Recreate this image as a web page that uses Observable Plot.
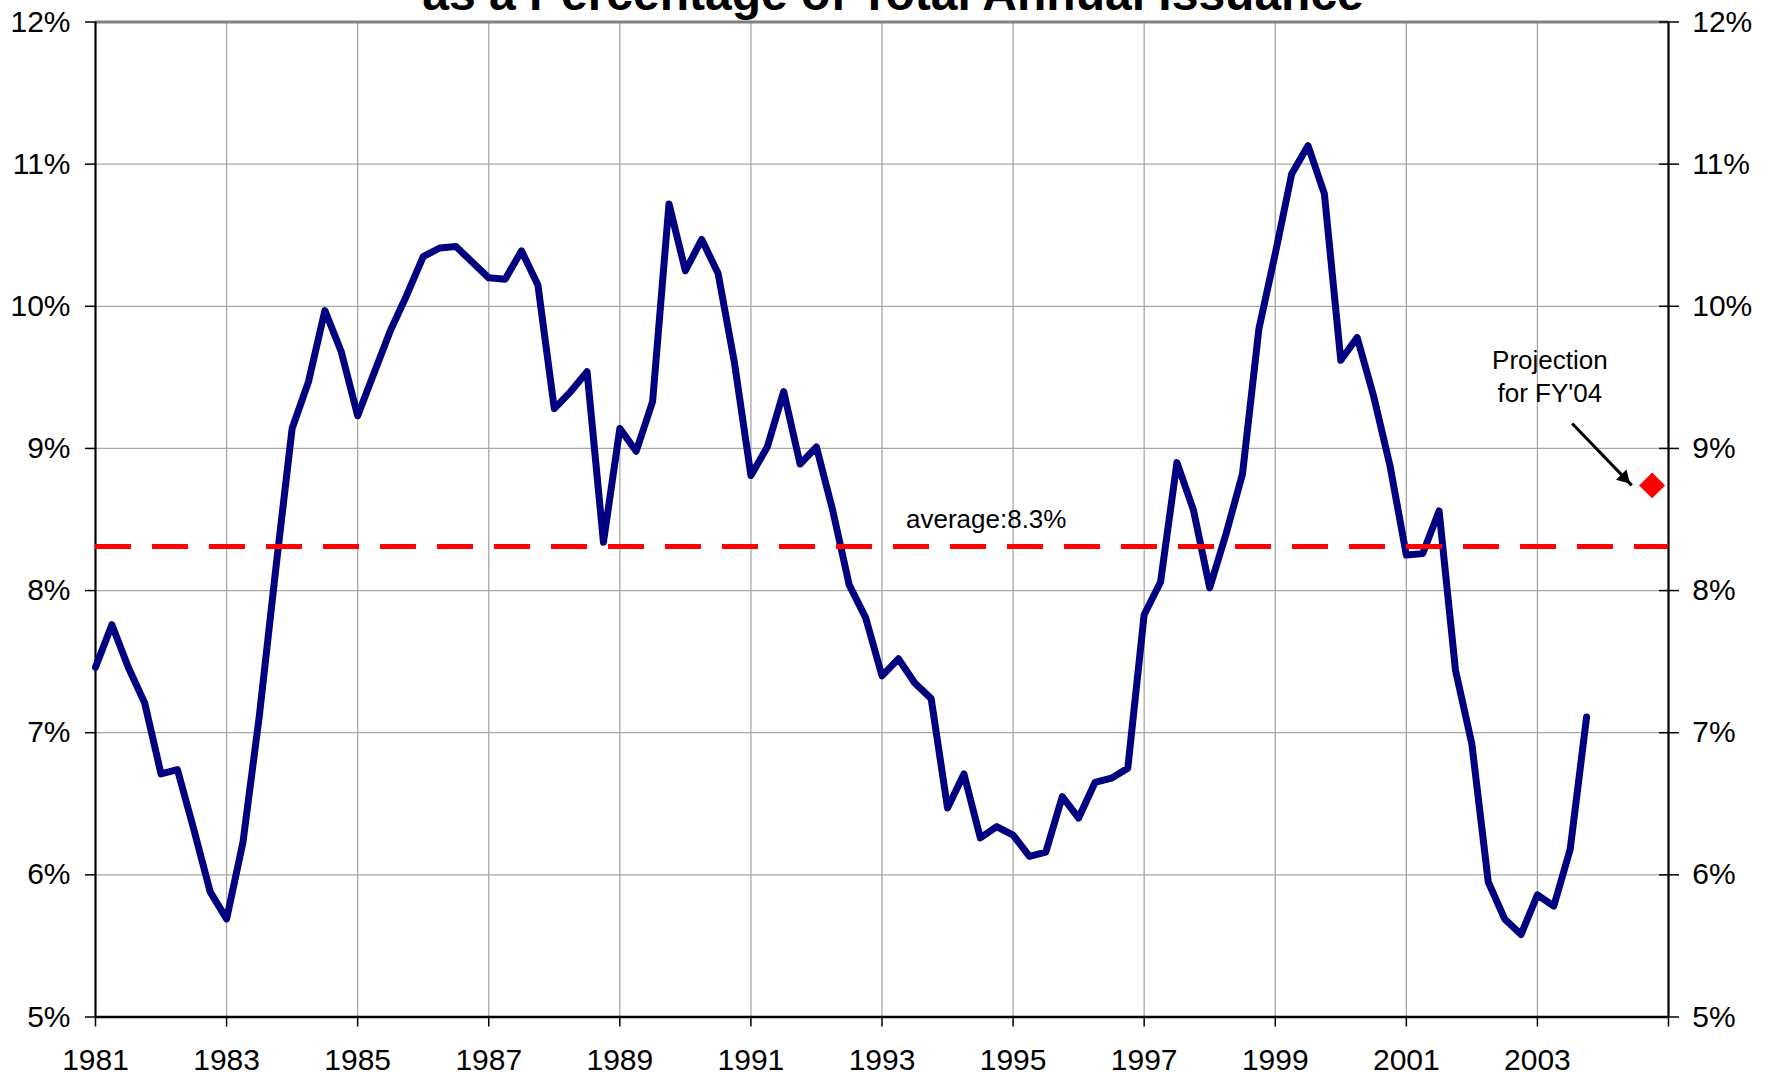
<!DOCTYPE html>
<html>
<head>
<meta charset="utf-8">
<script src="https://cdn.jsdelivr.net/npm/d3@7"></script>
<script src="https://cdn.jsdelivr.net/npm/@observablehq/plot@0.6"></script>
<style>
  html, body { margin: 0; padding: 0; background: #fff; overflow: hidden; }
  #chart { width: 1771px; height: 1077px; }
</style>
</head>
<body>
<div id="chart"></div>
<script>
// ---- Data (quarterly, starting 1981 Q1) ----
const startYear = 1981;
const values = [
  7.46, 7.76, 7.46, 7.21, 6.71, 6.74, 6.32, 5.88, 5.69, 6.23,
  7.12, 8.15, 9.14, 9.47, 9.97, 9.68, 9.23, 9.53, 9.83, 10.08,
  10.35, 10.41, 10.42, 10.31, 10.20, 10.19, 10.39, 10.15, 9.28, 9.40,
  9.54, 8.34, 9.14, 8.98, 9.33, 10.72, 10.25, 10.47, 10.23, 9.60,
  8.81, 9.01, 9.40, 8.89, 9.01, 8.56, 8.04, 7.81, 7.40, 7.52,
  7.35, 7.24, 6.47, 6.71, 6.26, 6.34, 6.28, 6.13, 6.16, 6.55,
  6.40, 6.65, 6.68, 6.75, 7.83, 8.06, 8.90, 8.57, 8.02, 8.40,
  8.82, 9.84, 10.37, 10.93, 11.13, 10.79, 9.62, 9.78, 9.37, 8.88,
  8.25, 8.26, 8.56, 7.44, 6.92, 5.95, 5.69, 5.58, 5.86, 5.78,
  6.18, 7.11
];
const average = 8.31;
const projectionQuarterIndex = 95;   // FY'04 projection
const projectionValue = 8.74;

const xDomain = [1981, 2005];
const yDomain = [5, 12];
const xTicks = [1981, 1983, 1985, 1987, 1989, 1991, 1993, 1995, 1997, 1999, 2001, 2003, 2005];
const xTickLabels = ["1981", "1983", "1985", "1987", "1989", "1991", "1993", "1995", "1997", "1999", "2001", "2003"];
const yTicks = [5, 6, 7, 8, 9, 10, 11, 12];
const yTickLabels = ["5%", "6%", "7%", "8%", "9%", "10%", "11%", "12%"];

const titleText = "as a Percentage of Total Annual Issuance";
const averageLabel = [{x: 1994.59, y: average, text: `average:${average.toFixed(1)}%`}];
const projectionLabel = [{x: 2003.19, y: 9.33, text: "Projection\nfor FY'04"}];
const arrowData = [{x1: 2003.53, y1: 9.175, x2: 2004.44, y2: 8.74}];

// ---- Derived tables ----
const rows = values.map((v, i) => ({year: startYear + i / 4, value: v}));
const projection = [{year: startYear + projectionQuarterIndex / 4, value: projectionValue}];
const xGrid = xTicks.slice(1, -1);
const yGrid = yTicks.slice(1, -1);
const xFmt = d => { const i = xTickLabels.indexOf(String(d)); return i >= 0 ? xTickLabels[i] : ""; };
const yFmt = d => yTickLabels[yTicks.indexOf(d)];

const chart = Plot.plot({
  width: 1771,
  height: 1077,
  marginLeft: 95,
  marginRight: 103,
  marginTop: 21.5,
  marginBottom: 60.5,
  style: {fontFamily: "'Liberation Sans', Arial, sans-serif", fontSize: "30px", color: "#000", background: "#fff"},
  x: {domain: xDomain, label: null},
  y: {domain: yDomain, label: null},
  marks: [
    // gridlines
    Plot.ruleX(xGrid, {stroke: "#a6a6a6", strokeWidth: 1.3}),
    Plot.ruleY(yGrid, {stroke: "#a6a6a6", strokeWidth: 1.3}),
    Plot.ruleY([yDomain[1]], {stroke: "#808080", strokeWidth: 3}),
    // axes
    Plot.axisX({ticks: xTicks, tickFormat: xFmt, tickSize: 10, tickPadding: 22, strokeWidth: 1.5}),
    Plot.axisY({anchor: "left", ticks: yTicks, tickFormat: yFmt, tickSize: 10, tickPadding: 15, strokeWidth: 1.5}),
    Plot.axisY({anchor: "right", ticks: yTicks, tickFormat: yFmt, tickSize: 20, tickPadding: 13.7, dx: -10, strokeWidth: 1.5}),
    Plot.ruleX([xDomain[0]], {stroke: "#000", strokeWidth: 2.2}),
    Plot.ruleX([xDomain[1]], {stroke: "#000", strokeWidth: 2.2}),
    Plot.ruleY([yDomain[0]], {stroke: "#000", strokeWidth: 2.5}),
    // data line
    Plot.line(rows, {x: "year", y: "value", stroke: "#000080", strokeWidth: 7, strokeLinejoin: "round", strokeLinecap: "round"}),
    // average line
    Plot.ruleY([average], {stroke: "#ff0000", strokeWidth: 5, strokeDasharray: "36,21"}),
    Plot.text(averageLabel, {x: "x", y: "y", text: "text", fontSize: 26, textAnchor: "middle", lineAnchor: "bottom", dy: -19}),
    // projection
    Plot.dot(projection, {x: "year", y: "value", symbol: "diamond2", r: 11.7, fill: "#ff0000", stroke: "none"}),
    Plot.link(arrowData, {x1: "x1", y1: "y1", x2: "x2", y2: "y2", stroke: "#000", strokeWidth: 3}),
    Plot.dot(arrowData, {x: "x2", y: "y2", symbol: "triangle2", r: 7, fill: "#000", stroke: "none", rotate: 136, dx: -7.6, dy: -7.8}),
    Plot.text(projectionLabel, {x: "x", y: "y", text: "text", fontSize: 26, lineHeight: 1.26, textAnchor: "middle", lineAnchor: "bottom"}),
    // title (partially cut off at top, as in the reference)
    Plot.text([titleText], {text: d => d, frameAnchor: "top", fontSize: 48, fontWeight: "bold", lineAnchor: "bottom", dy: -12.5, dx: 11})
  ]
});
document.getElementById("chart").appendChild(chart);
</script>
</body>
</html>
